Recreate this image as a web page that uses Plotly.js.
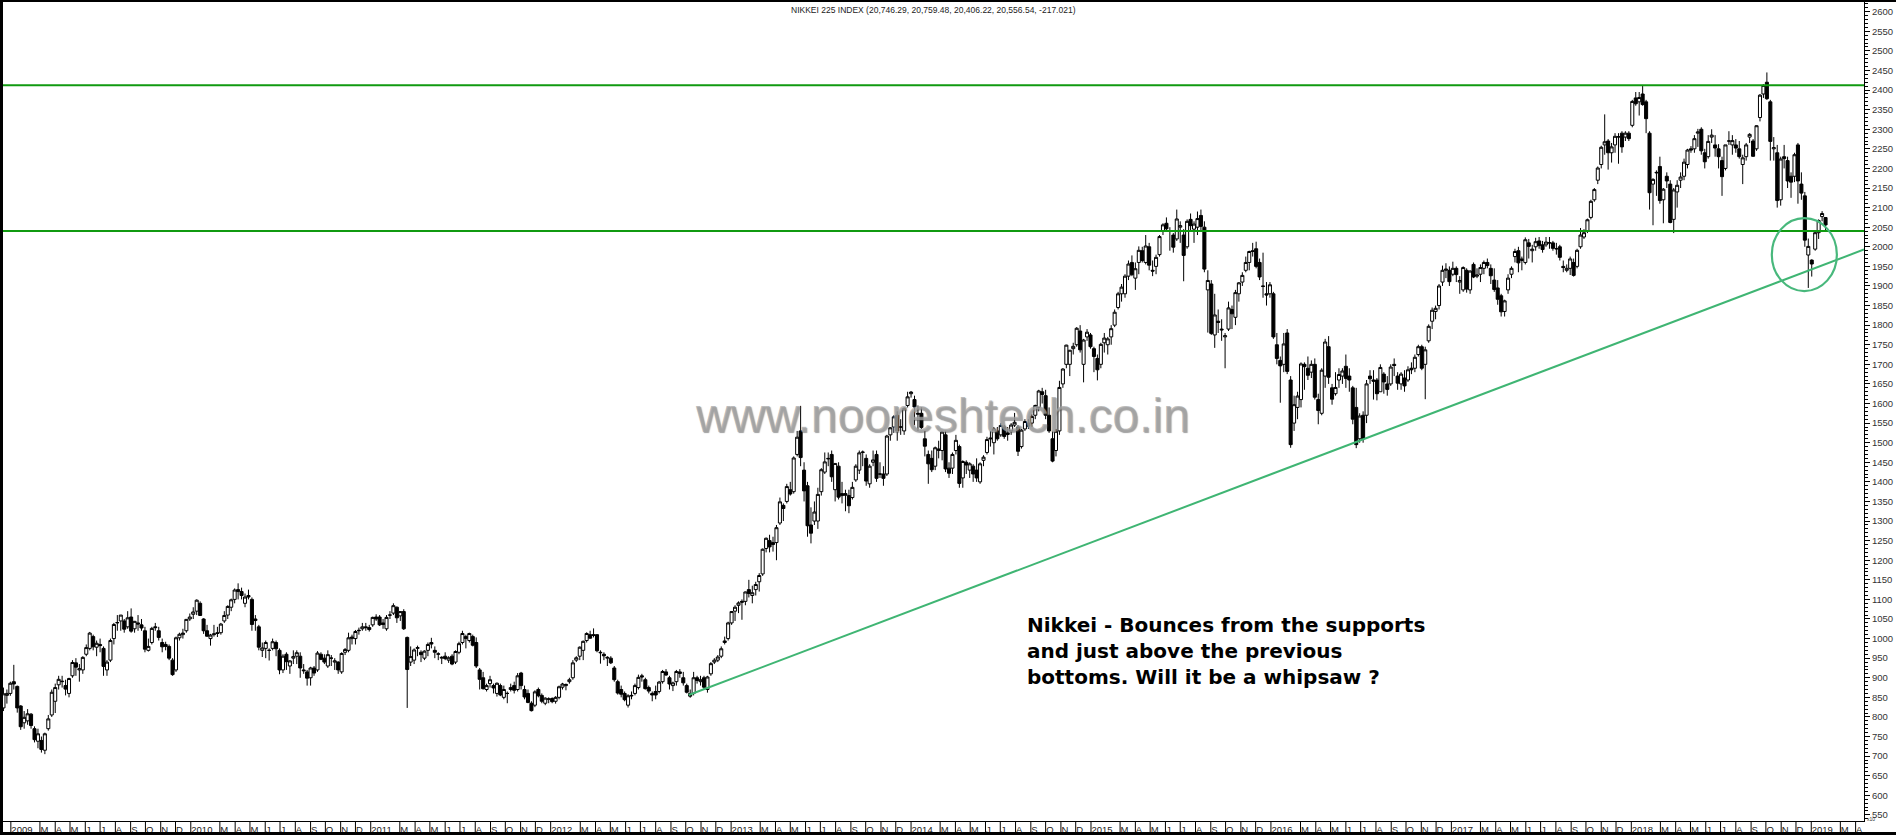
<!DOCTYPE html>
<html>
<head>
<meta charset="utf-8">
<script src="https://cdn.plot.ly/plotly-3.0.1.min.js"></script>
<style>html,body{margin:0;padding:0;background:#fff;}#chart{width:1896px;height:835px;}</style>
</head>
<body>
<div id="chart"></div>
<script>
// Weekly Nikkei 225 candles (axis units = index / 10), first week starting 15 Dec 2008
const firstWeek = '2008-12-17';
const opens = [
// 2008
823,855,860,
// 2009
890,878,828,785,790,807,770,738,740,715,770,805,840,882,890,880,860,905,938,920,920,960,975,1005,978,985,975,920,945,1000,1040,1045,1045,1030,1055,1025,1040,1035,1020,970,990,1030,1020,990,985,980,945,920,1002,1010,1020,1050,
// 2010
1062,1070,1090,1050,1020,1000,1010,1015,1015,1045,1060,1080,1100,1125,1120,1090,1110,1100,1050,1030,970,975,970,975,990,970,920,960,930,950,955,955,920,915,900,925,920,960,950,930,950,940,940,915,965,970,1000,1000,1020,1025,1030,1028,
// 2011
1035,1055,1055,1040,1025,1060,1065,1080,1058,1069,1003,940,945,975,965,950,970,990,970,960,950,955,945,955,940,965,990,1005,995,1005,990,920,900,870,885,880,860,880,850,860,870,880,870,912,870,860,835,830,870,855,835,845,
// 2012
847,840,850,876,880,890,900,945,955,970,995,1010,1010,1010,965,960,950,950,925,890,870,860,830,855,860,875,905,895,875,860,865,865,890,915,900,880,890,915,900,880,860,860,900,890,900,870,910,940,945,955,990,1000,1040,
// 2013
1070,1085,1095,1095,1125,1110,1125,1145,1165,1230,1250,1245,1245,1295,1340,1350,1380,1375,1470,1530,1430,1390,1290,1300,1300,1375,1425,1460,1470,1380,1440,1370,1370,1365,1360,1405,1430,1475,1460,1395,1450,1470,1420,1420,1420,1520,1540,1570,1540,1530,1595,1625,
// 2014
1610,1575,1575,1510,1470,1460,1440,1480,1480,1520,1435,1435,1480,1490,1410,1450,1430,1440,1430,1400,1455,1475,1512,1500,1530,1520,1540,1525,1530,1545,1540,1490,1535,1550,1550,1570,1590,1630,1620,1570,1510,1480,1530,1650,1700,1700,1740,1750,1785,1700,1770,1775,
// 2015
1740,1715,1700,1755,1750,1770,1800,1845,1880,1880,1925,1960,1920,1960,1990,1960,2000,1940,1950,1980,2040,2060,2040,2030,2020,2050,2030,2000,2070,2045,2050,2080,2050,1890,1905,1775,1810,1790,1770,1790,1840,1820,1880,1910,1940,1960,1990,1995,1960,1900,1880,1880,
// 2016
1880,1750,1710,1700,1780,1660,1550,1590,1610,1700,1690,1680,1700,1610,1575,1670,1745,1640,1625,1660,1670,1695,1670,1640,1590,1510,1570,1570,1670,1660,1660,1630,1675,1650,1650,1700,1670,1650,1665,1660,1690,1690,1725,1745,1700,1760,1810,1835,1850,1910,1940,1940,
// 2017
1930,1945,1910,1890,1940,1890,1955,1925,1930,1945,1960,1945,1915,1895,1875,1835,1890,1930,1975,1990,1965,1960,2010,1990,2000,2015,2005,2005,2010,2010,1995,2000,1950,1940,1945,1960,1950,2000,2025,2040,2075,2120,2170,2210,2260,2270,2240,2260,2280,2290,2280,2290,
// 2018
2310,2380,2370,2390,2370,2290,2160,2190,2205,2120,2180,2160,2070,2140,2170,2180,2210,2250,2250,2290,2300,2240,2230,2280,2260,2250,2220,2200,2270,2260,2260,2250,2210,2230,2280,2270,2250,2330,2390,2420,2370,2250,2240,2120,2230,2220,2180,2180,2260,2160,2130,1979,1966,
// 2019
1994,2036,2077,2074.6
];
const highs = [
875,870,890,
933,880,830,815,820,810,776,770,750,760,805,870,885,905,905,895,900,945,950,935,955,985,1017,1010,995,1000,980,945,1000,1040,1060,1060,1050,1070,1077,1045,1060,1050,1030,1000,1030,1040,1030,1000,992,985,950,1005,1015,1025,1050,1064,
1080,1100,1095,1052,1035,1012,1035,1030,1040,1070,1085,1102,1128,1141,1130,1115,1125,1105,1060,1035,990,995,975,1000,995,975,960,965,945,970,970,965,935,920,928,930,968,965,960,970,958,950,942,965,976,1015,1010,1022,1028,1040,1040,1035,
1056,1062,1060,1050,1060,1070,1090,1082,1070,1075,1005,980,975,982,970,970,990,1002,980,965,955,965,955,960,970,992,1020,1010,1015,1010,1003,925,915,885,905,885,888,885,880,865,885,890,912,915,880,870,840,868,875,860,850,850,
850,853,880,887,885,900,945,955,980,995,1016,1020,1026,1011,970,965,955,955,930,895,880,865,858,865,885,908,910,900,880,865,880,892,920,922,905,890,920,922,915,885,870,915,905,905,905,905,940,950,958,980,1005,1043,1070,
1085,1095,1100,1120,1150,1135,1145,1167,1230,1258,1265,1260,1290,1360,1345,1395,1400,1465,1530,1594,1450,1400,1335,1350,1385,1435,1475,1475,1480,1447,1450,1400,1380,1380,1400,1445,1480,1480,1470,1445,1480,1480,1450,1440,1520,1540,1570,1580,1560,1590,1630,1632,
1620,1595,1590,1530,1480,1480,1490,1505,1530,1530,1450,1475,1520,1495,1455,1455,1450,1445,1460,1450,1468,1515,1530,1540,1540,1550,1545,1540,1550,1576,1545,1535,1560,1560,1572,1597,1635,1640,1635,1590,1530,1535,1658,1690,1750,1735,1755,1795,1800,1765,1790,1780,
1745,1725,1755,1780,1770,1800,1840,1885,1905,1930,1965,1978,1960,2001,2000,2030,2010,1965,1980,2030,2060,2075,2050,2035,2095,2065,2045,2070,2085,2065,2090,2095,2065,1940,1915,1880,1840,1815,1780,1860,1850,1890,1910,1935,1975,1990,2010,2013,1970,1985,1910,1910,
1885,1780,1720,1780,1790,1670,1620,1630,1705,1705,1720,1710,1715,1625,1690,1765,1772,1650,1680,1690,1690,1725,1690,1645,1640,1575,1580,1660,1685,1685,1665,1700,1680,1670,1700,1715,1680,1680,1685,1695,1705,1725,1750,1750,1745,1802,1845,1850,1905,1952,1958,1950,
1962,1950,1925,1950,1945,1940,1960,1945,1955,1965,1970,1955,1945,1915,1880,1865,1930,1950,1995,2000,1975,2024,2020,2005,2023,2025,2015,2025,2025,2015,2010,2005,1965,1955,1975,1970,1995,2048,2045,2072,2120,2150,2205,2258,2338,2275,2265,2290,2290,2295,2295,2295,
2375,2395,2395,2413,2375,2295,2175,2195,2230,2150,2190,2170,2150,2170,2190,2225,2250,2257,2285,2301,2305,2250,2285,2300,2285,2262,2230,2260,2295,2285,2275,2270,2235,2265,2290,2275,2310,2390,2415,2445,2375,2280,2260,2230,2260,2230,2190,2240,2265,2190,2140,2021,1968,
2040,2070,2091,2075.9
];
const lows = [
815,834,854,
870,811,767,770,780,770,735,720,709,705,765,800,810,870,875,855,850,900,905,890,910,955,970,970,955,965,905,905,940,985,1020,1020,1015,1025,1015,1015,1020,1020,965,967,985,1020,995,965,970,945,905,915,995,1000,1015,1045,
1050,1060,1058,1012,1005,982,1005,1004,1010,1040,1050,1070,1090,1100,1100,1080,1100,1020,1020,970,953,950,944,970,955,909,912,920,910,935,935,900,910,880,880,905,915,945,935,925,930,920,910,910,958,965,985,985,1010,1020,1020,1018,
1030,1045,1032,1025,1020,1050,1060,1040,1045,1022,823,930,935,955,940,945,955,975,950,945,935,945,938,932,935,960,985,975,990,980,925,870,870,865,875,860,852,853,845,835,865,860,865,870,845,835,814,825,850,835,830,835,
835,834,845,870,868,885,895,940,945,945,990,1000,1003,965,936,945,930,935,890,857,850,840,824,845,855,870,890,870,860,840,845,860,885,905,870,866,880,900,880,860,849,855,885,880,870,862,905,935,940,950,985,995,1035,
1045,1065,1048,1085,1105,1090,1110,1120,1160,1220,1220,1222,1200,1290,1300,1345,1365,1370,1465,1440,1350,1260,1243,1290,1280,1365,1420,1440,1400,1350,1355,1345,1325,1320,1355,1400,1420,1440,1390,1385,1440,1400,1410,1390,1415,1505,1525,1505,1520,1520,1590,1615,
1545,1530,1535,1465,1395,1425,1430,1460,1455,1425,1410,1420,1470,1385,1385,1420,1410,1400,1400,1395,1440,1470,1490,1470,1505,1515,1510,1505,1520,1540,1466,1485,1530,1535,1540,1560,1580,1600,1560,1525,1450,1465,1520,1640,1690,1670,1725,1745,1730,1654,1760,1740,
1680,1659,1690,1730,1725,1750,1795,1840,1860,1870,1915,1925,1890,1930,1960,1955,1940,1925,1930,1975,2030,2040,1990,1985,2015,2010,1912,1995,2040,2010,2030,2040,1935,1781,1775,1742,1780,1760,1690,1785,1790,1800,1860,1900,1935,1940,1975,1945,1915,1870,1850,1870,
1765,1700,1602,1680,1675,1487,1530,1560,1590,1635,1660,1665,1610,1547,1570,1640,1650,1597,1620,1640,1650,1640,1630,1547,1486,1500,1500,1550,1650,1610,1608,1630,1625,1620,1645,1670,1635,1635,1630,1655,1675,1680,1720,1685,1611,1755,1790,1815,1840,1900,1920,1900,
1925,1910,1880,1885,1883,1880,1920,1920,1910,1930,1945,1905,1885,1852,1822,1822,1880,1920,1960,1935,1940,1955,1970,1960,1990,1995,1985,2000,1995,1990,1980,1965,1935,1935,1928,1924,1945,1995,2020,2035,2070,2115,2160,2200,2235,2197,2215,2240,2212,2240,2270,2270,
2305,2360,2335,2360,2290,2095,2055,2130,2110,2060,2150,2060,2035,2100,2150,2170,2200,2240,2240,2255,2235,2200,2225,2265,2230,2200,2130,2195,2260,2235,2240,2225,2160,2220,2265,2230,2245,2320,2380,2375,2220,2220,2100,2105,2200,2150,2125,2165,2110,2120,2000,1895,1924,
1990,2020,2065,2040.6
];
const closes = [
859,860,886,
884,823,775,799,808,778,742,757,717,757,795,863,875,896,891,871,898,939,927,923,952,977,1014,979,988,982,929,940,995,1036,1041,1060,1024,1053,1019,1044,1037,1027,973,980,1026,1028,1003,979,980,950,908,1002,1011,1014,1049,1055,
1068,1098,1059,1020,1006,1009,1012,1013,1037,1059,1082,1099,1124,1120,1110,1106,1106,1036,1046,978,976,990,970,992,974,920,955,941,943,954,964,925,918,899,925,912,963,947,940,959,950,943,920,962,972,1002,1004,1018,1021,1030,1028,1023,
1054,1050,1035,1036,1054,1060,1084,1053,1069,1025,921,954,971,977,959,968,985,986,965,961,952,949,951,935,967,987,1013,1000,1013,983,930,896,872,880,895,874,886,856,870,860,875,868,905,880,851,837,816,864,854,840,848,846,
839,850,877,884,883,895,938,951,978,993,1013,1001,1008,969,964,956,952,938,895,861,858,844,854,854,880,901,902,872,866,856,856,889,916,907,884,887,916,911,887,863,853,900,893,895,876,902,936,945,953,974,994,1040,1069,
1080,1091,1093,1119,1115,1117,1138,1161,1228,1256,1234,1240,1283,1349,1332,1388,1369,1461,1514,1462,1377,1288,1269,1323,1368,1431,1451,1459,1413,1447,1361,1365,1366,1339,1386,1440,1474,1476,1402,1440,1456,1409,1420,1409,1517,1538,1566,1530,1540,1587,1617,1629,
1591,1573,1539,1491,1446,1431,1487,1484,1527,1433,1422,1470,1506,1396,1452,1443,1446,1420,1410,1446,1463,1508,1510,1535,1510,1544,1516,1521,1545,1552,1478,1532,1554,1542,1567,1595,1632,1623,1570,1530,1453,1529,1641,1688,1749,1736,1746,1792,1737,1762,1782,1745,
1720,1686,1751,1767,1765,1791,1833,1880,1897,1925,1956,1929,1944,1991,1965,2002,1953,1938,1973,2026,2056,2046,2041,1999,2071,2054,1978,2065,2054,2058,2072,2052,1943,1914,1779,1826,1807,1788,1773,1844,1829,1883,1908,1927,1960,1988,1988,1950,1923,1899,1877,1903,
1770,1715,1696,1752,1682,1495,1597,1619,1701,1694,1672,1700,1616,1582,1685,1757,1667,1611,1641,1674,1683,1664,1660,1560,1495,1568,1511,1650,1663,1657,1625,1692,1655,1636,1693,1697,1652,1675,1645,1686,1686,1718,1745,1690,1737,1797,1838,1843,1900,1940,1943,1911,
1945,1929,1914,1947,1892,1938,1923,1928,1947,1960,1952,1926,1891,1866,1834,1862,1920,1945,1988,1959,1969,2018,2001,1994,2013,2003,1993,2012,2010,1996,1995,1973,1947,1945,1969,1927,1991,2030,2036,2069,2116,2146,2201,2254,2268,2240,2255,2282,2281,2255,2290,2276,
2371,2365,2381,2363,2327,2138,2172,2189,2118,2147,2168,2062,2145,2157,2178,2216,2247,2247,2276,2293,2245,2217,2269,2285,2252,2230,2179,2260,2270,2271,2252,2230,2227,2260,2287,2231,2309,2387,2412,2378,2269,2253,2118,2224,2225,2168,2165,2235,2168,2137,2017,2001,1956,
2036,2067,2085,2055.7
];

// Drawn support / resistance levels and rising trendline
const supportLevels = [2412, 2040];
const trendDates = ['2012-10-07', '2019-04-18'];
const trendValues = [856, 1993];

// Axis labels
const monthLetters = ['J','F','M','A','M','J','J','A','S','O','N','D'];
const yTickValues = [];
for (let v = 550; v <= 2600; v += 50) yTickValues.push(v);

const titleText = 'NIKKEI 225 INDEX (20,746.29, 20,759.48, 20,406.22, 20,556.54, -217.021)';
const noteText = '<b>Nikkei - Bounces from the supports<br>and just above the previous<br>bottoms. Will it be a whipsaw ?</b>';
const watermark = 'www.nooreshtech.co.in';

// weekly dates
const dates = [];
const t0 = Date.parse(firstWeek + 'T00:00:00Z');
for (let i = 0; i < closes.length; i++) {
  dates.push(new Date(t0 + i * 7 * 86400000).toISOString().slice(0, 10));
}

// month ticks (Feb omitted, as in the original)
const xTickVals = [], xTickText = [];
for (let y = 2009; y <= 2019; y++) {
  for (let m = 0; m < 12; m++) {
    if (y === 2019 && m > 3) break;
    if (m === 1) continue;
    xTickVals.push(y + '-' + String(m + 1).padStart(2, '0') + '-01');
    xTickText.push(m === 0 ? String(y) : monthLetters[m]);
  }
}

const PW = 1864, PH = 821;  // plot area size in px
const px = X => X / PW;
const py = Y => 1 - Y / PH;

const shapes = [];
// month separators in the axis strip
xTickVals.forEach(d => shapes.push({type:'line', xref:'x', yref:'paper', x0:d, x1:d, y0:py(821), y1:py(833), line:{color:'#000', width:1}}));
// support lines
supportLevels.forEach(v => shapes.push({type:'line', xref:'paper', yref:'y', x0:0, x1:1, y0:v, y1:v, line:{color:'#109a10', width:2}}));
// circle
shapes.push({type:'circle', xref:'x', yref:'y', x0:'2018-10-13', x1:'2019-02-22', y0:1887, y1:2073, line:{color:'#48b87c', width:2.2}});
// frame
shapes.push({type:'rect', xref:'paper', yref:'paper', x0:px(0), x1:px(3), y0:py(835), y1:py(0), line:{width:0}, fillcolor:'#000'});
shapes.push({type:'rect', xref:'paper', yref:'paper', x0:px(0), x1:px(1896), y0:py(2), y1:py(0), line:{width:0}, fillcolor:'#000'});
shapes.push({type:'rect', xref:'paper', yref:'paper', x0:px(0), x1:px(1896), y0:py(835), y1:py(832), line:{width:0}, fillcolor:'#000'});

const traces = [
  {
    type:'candlestick', x:dates, open:opens, high:highs, low:lows, close:closes,
    increasing:{line:{color:'#000', width:1}, fillcolor:'#fff'},
    decreasing:{line:{color:'#000', width:1}, fillcolor:'#000'},
    whiskerwidth:0, hoverinfo:'skip', showlegend:false
  },
  {
    type:'scatter', mode:'lines', x:trendDates, y:trendValues,
    line:{color:'#3fb573', width:2}, hoverinfo:'skip', showlegend:false
  }
];

const layout = {
  width:1896, height:835,
  margin:{l:0, r:32, t:0, b:14, pad:0},
  paper_bgcolor:'#fff', plot_bgcolor:'#fff',
  showlegend:false, hovermode:false,
  boxgap:0.12, boxgroupgap:0,
  xaxis:{
    type:'date', range:['2008-12-10', '2019-04-18'], rangeslider:{visible:false},
    showgrid:false, zeroline:false, showline:true, linecolor:'#000', linewidth:1,
    ticks:'', tickmode:'array', tickvals:xTickVals, ticktext:xTickText,
    ticklabelposition:'outside right', tickangle:0,
    tickfont:{family:'Liberation Sans, Arial, sans-serif', size:9.5, color:'#222'}
  },
  yaxis:{
    side:'right', range:[534.4, 2629.9], showgrid:false, zeroline:false,
    showline:true, linecolor:'#000', linewidth:1,
    tickmode:'array', tickvals:yTickValues, ticks:'outside', ticklen:5, tickcolor:'#000', tickwidth:1,
    minor:{dtick:10, tick0:0, ticks:'outside', ticklen:3, tickcolor:'#000', tickwidth:1, showgrid:false},
    tickfont:{family:'Liberation Sans, Arial, sans-serif', size:9.5, color:'#333'}
  },
  shapes:shapes,
  annotations:[
    {xref:'paper', yref:'paper', x:px(693), y:py(415), xanchor:'left', yanchor:'middle', showarrow:false,
     text:watermark, font:{family:'Liberation Sans, Arial, sans-serif', size:48, color:'rgba(165,165,165,0.72)', shadow:'1px 1px 1px rgba(80,80,80,0.75)'}},
    {xref:'paper', yref:'paper', x:px(933.5), y:py(10), xanchor:'center', yanchor:'middle', showarrow:false,
     text:titleText, font:{family:'Liberation Sans, Arial, sans-serif', size:8.5, color:'#222'}},
    {xref:'paper', yref:'paper', x:px(1025), y:py(651.4), xanchor:'left', yanchor:'middle', align:'left', showarrow:false,
     text:noteText, font:{family:'DejaVu Sans, Verdana, sans-serif', size:20, color:'#000'}},
    {xref:'paper', yref:'paper', x:px(1864.5), y:py(818.5), xanchor:'left', yanchor:'middle', showarrow:false,
     text:'x10', font:{family:'Liberation Sans, Arial, sans-serif', size:5, color:'#333'}}
  ]
};

Plotly.newPlot('chart', traces, layout, {staticPlot:true, displayModeBar:false});
</script>
</body>
</html>
